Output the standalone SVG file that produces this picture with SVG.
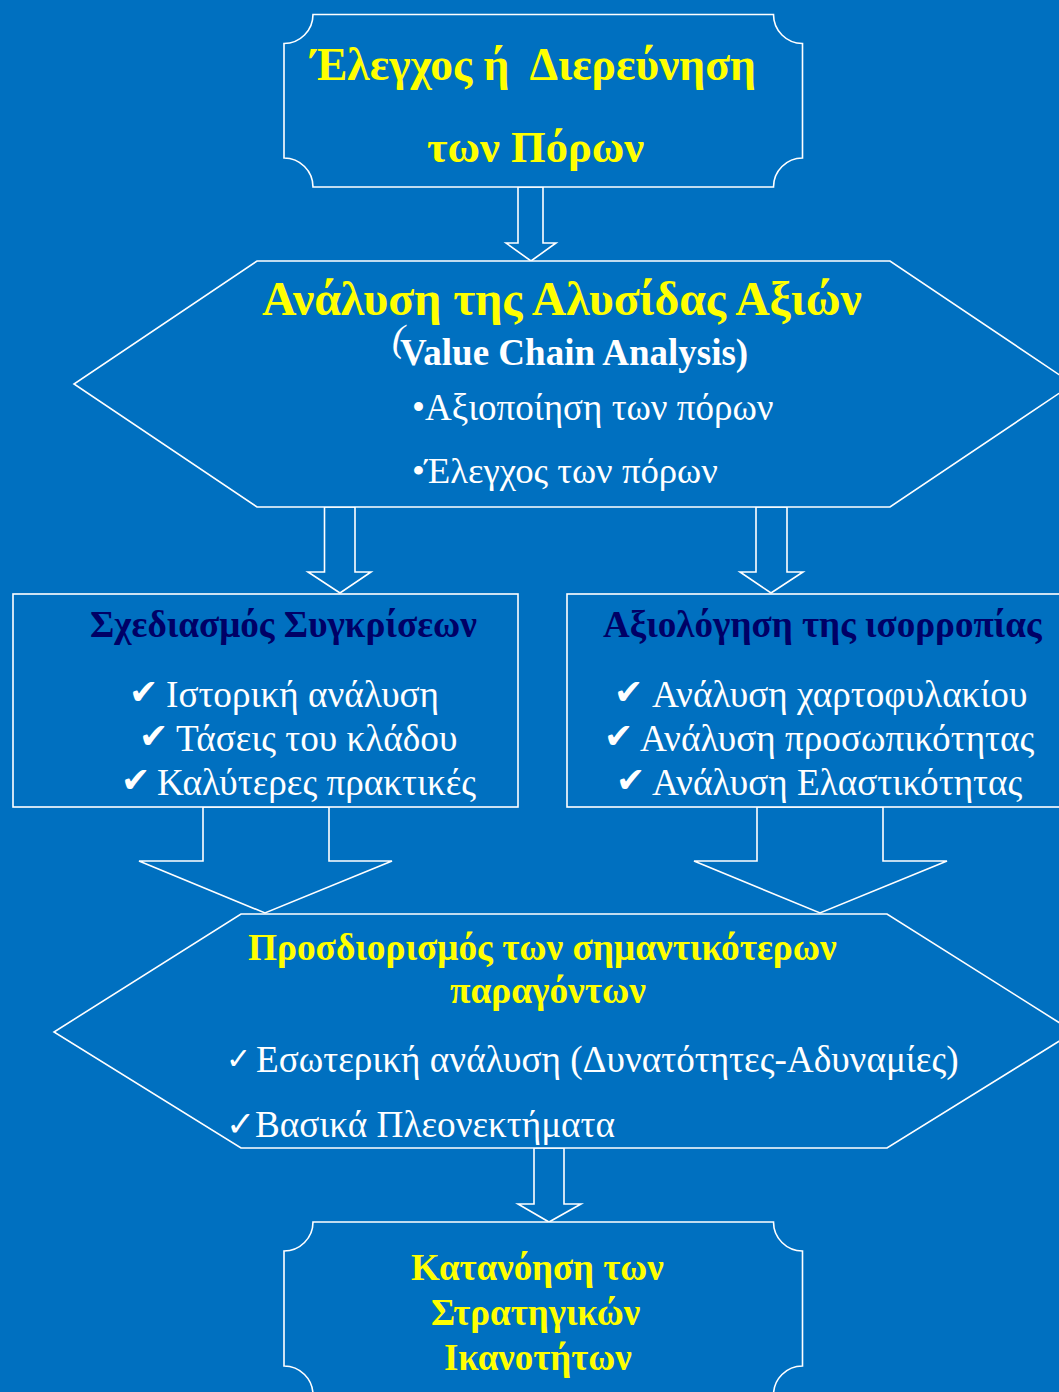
<svg xmlns="http://www.w3.org/2000/svg" width="1059" height="1392" viewBox="0 0 1059 1392">
<defs>
<style>
.bg{fill:#0070C0}
.shape{fill:#0070C0;stroke:#FFFFFF;stroke-width:1.6}
.t{font-family:"Liberation Serif","Times New Roman",serif}
.yb{fill:#FFFF00;font-weight:bold}
.nb{fill:#000066;font-weight:bold}
.w{fill:#FFFFFF}
.ck{font-family:"DejaVu Sans",sans-serif;fill:#FFFFFF}
</style>
</defs>
<rect class="bg" x="0" y="0" width="1059" height="1392"/>
<g id="connectors">
<polygon class="shape" points="518,187 543,187 543,243 556,243 531,261 506,243 518,243"/>
<polygon class="shape" points="324.5,507 355,507 355,572 371,572 340,593 308,572 324.5,572"/>
<polygon class="shape" points="756,507 787,507 787,572 803,572 771,593 740,572 756,572"/>
<polygon class="shape" points="203,807 329,807 329,861 392,861 265,913 139,861 203,861"/>
<polygon class="shape" points="757,807 883,807 883,861 947,861 820,913 694,861 757,861"/>
<polygon class="shape" points="534,1148 564,1148 564,1204 581,1204 549,1222 518,1204 534,1204"/>
</g>
<g id="node-top">
<path class="shape" d="M313,14.5 H773.5 A29,29 0 0 0 802.5,43.5 V158 A29,29 0 0 0 773.5,187 H313 A29,29 0 0 0 284,158 V43.5 A29,29 0 0 0 313,14.5 Z"/>
<text class="t yb" x="311" y="80" font-size="45.5" xml:space="preserve">Έλεγχος ή  Διερεύνηση</text>
<text class="t yb" x="427" y="162" font-size="44.5">των Πόρων</text>
</g>
<g id="node-vca">
<polygon class="shape" points="257,261 890,261 1073,384 890,507 257,507 74,384"/>
<text class="t yb" x="262" y="315" font-size="47.7">Ανάλυση της Αλυσίδας Αξιών</text>
<text class="t w" x="392" y="351" font-size="38" font-style="italic">(</text>
<text class="t w" x="400" y="365" font-size="37" font-weight="bold">Value Chain Analysis)</text>
<text class="t w" x="412" y="420" font-size="37">•Αξιοποίηση των πόρων</text>
<text class="t w" x="412" y="483" font-size="36.7">•Έλεγχος των πόρων</text>
</g>
<g id="node-compare">
<rect class="shape" x="13" y="594" width="505" height="213"/>
<text class="t nb" x="90" y="637" font-size="37.2">Σχεδιασμός Συγκρίσεων</text>
<text class="ck" x="129" y="704" font-size="35">✔</text>
<text class="t w" x="166" y="707" font-size="37.2">Ιστορική ανάλυση</text>
<text class="ck" x="139" y="748" font-size="35">✔</text>
<text class="t w" x="176" y="751" font-size="37.2">Τάσεις του κλάδου</text>
<text class="ck" x="121" y="792" font-size="35">✔</text>
<text class="t w" x="157" y="795" font-size="37.2">Καλύτερες πρακτικές</text>
</g>
<g id="node-balance">
<rect class="shape" x="567" y="594" width="494" height="213"/>
<text class="t nb" x="603" y="637" font-size="37.1">Αξιολόγηση της ισορροπίας</text>
<text class="ck" x="614" y="704" font-size="35">✔</text>
<text class="t w" x="652" y="707" font-size="37.2">Ανάλυση χαρτοφυλακίου</text>
<text class="ck" x="604" y="748" font-size="35">✔</text>
<text class="t w" x="640" y="751" font-size="37.2">Ανάλυση προσωπικότητας</text>
<text class="ck" x="616" y="792" font-size="35">✔</text>
<text class="t w" x="652" y="795" font-size="37.2">Ανάλυση Ελαστικότητας</text>
</g>
<g id="node-factors">
<polygon class="shape" points="241,914 887,914 1074,1032 887,1148 241,1148 54,1032"/>
<text class="t yb" x="248" y="960" font-size="37.3">Προσδιορισμός των σημαντικότερων</text>
<text class="t yb" x="450" y="1003" font-size="37.3">παραγόντων</text>
<text class="ck" x="226" y="1069" font-size="30">✓</text>
<text class="t w" x="256" y="1072" font-size="37.2">Εσωτερική ανάλυση (Δυνατότητες-Αδυναμίες)</text>
<text class="ck" x="226" y="1136" font-size="35">✓</text>
<text class="t w" x="255" y="1137" font-size="37.2">Βασικά Πλεονεκτήματα</text>
</g>
<g id="node-bottom">
<path class="shape" d="M313,1222 H773.5 A29,29 0 0 0 802.5,1251 V1366 A29,29 0 0 0 773.5,1395 H313 A29,29 0 0 0 284,1366 V1251 A29,29 0 0 0 313,1222 Z"/>
<text class="t yb" x="411" y="1280" font-size="36.9">Κατανόηση των</text>
<text class="t yb" x="431" y="1325" font-size="36.9">Στρατηγικών</text>
<text class="t yb" x="444" y="1370" font-size="36.9">Ικανοτήτων</text>
</g>
</svg>
